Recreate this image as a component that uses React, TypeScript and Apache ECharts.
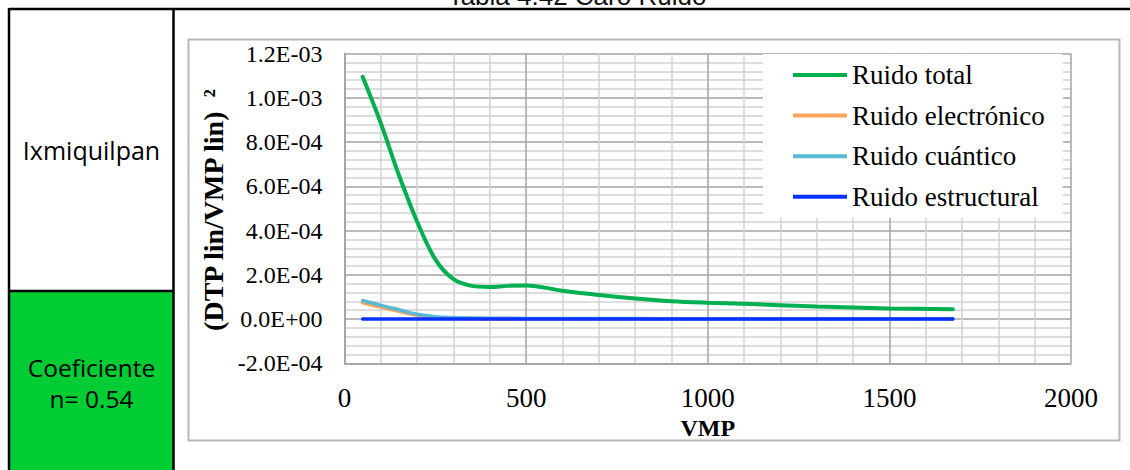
import React, { useEffect, useRef } from "react";
import * as echarts from "echarts";

// ---- data ----
const vmp = [50, 100, 150, 200, 250, 300, 350, 400, 450, 500, 600, 700, 800, 900, 1000, 1100, 1300, 1500, 1675];
const ruidoTotal = [1.095e-3, 8.85e-4, 6.5e-4, 4.4e-4, 2.7e-4, 1.8e-4, 1.5e-4, 1.45e-4, 1.5e-4, 1.52e-4, 1.28e-4, 1.09e-4, 9.3e-5, 8.1e-5, 7.4e-5, 6.9e-5, 5.7e-5, 4.8e-5, 4.4e-5];
const ruidoElectronico = [7.3e-5, 5.4e-5, 3.5e-5, 1.7e-5, 6e-6, 2e-6, 1e-6, 0, 0, 0, 0, 0, 0, 0, 0, 0, 0, 0, 0];
const ruidoCuantico = [8.4e-5, 6.2e-5, 4.2e-5, 2.2e-5, 1.1e-5, 7e-6, 5e-6, 4e-6, 3.5e-6, 3e-6, 2.5e-6, 2e-6, 2e-6, 1.5e-6, 1.5e-6, 1e-6, 1e-6, 1e-6, 1e-6];
const ruidoEstructural = [0, 0, 0, 0, 0, 0, 0, 0, 0, 0, 0, 0, 0, 0, 0, 0, 0, 0, 0];

const seriesNames = ["Ruido total", "Ruido electrónico", "Ruido cuántico", "Ruido estructural"];
const seriesColors = ["#00b050", "#f9a55a", "#5bb8d2", "#0a32ff"];
const seriesData = [ruidoTotal, ruidoElectronico, ruidoCuantico, ruidoEstructural];

const titleText = "Tabla 4.42 Caro Ruido";
const placeText = "Ixmiquilpan";
const coefLines = ["Coeficiente", "n= 0.54"];
const yTitle = "(DTP lin/VMP lin)  ²";
const xTitle = "VMP";

function sci(v: number): string {
  if (Math.abs(v) < 1e-12) return "0.0E+00";
  let e = Math.floor(Math.log10(Math.abs(v)));
  let m = v / Math.pow(10, e);
  m = Math.round(m * 10) / 10;
  if (Math.abs(m) >= 10) {
    m = m / 10;
    e += 1;
  }
  const ae = Math.abs(e);
  return m.toFixed(1) + "E" + (e < 0 ? "-" : "+") + (ae < 10 ? "0" + ae : String(ae));
}

const SERIF = '"Liberation Serif", "Times New Roman", serif';
const SANS = '"Open Sans", "Noto Sans", sans-serif';

export default function App() {
  const ref = useRef<HTMLDivElement>(null);
  useEffect(() => {
    const chart = echarts.init(ref.current!, null, { renderer: "svg" });
    const option: any = {
      animation: false,
      backgroundColor: "#ffffff",
      grid: { left: 344.5, right: 59, top: 53.6, bottom: 106.7 },
      xAxis: {
        type: "value",
        min: 0,
        max: 2000,
        interval: 500,
        axisLine: { show: true, onZero: false, lineStyle: { color: "#a0a0a0", width: 1.5 } },
        axisTick: { show: false },
        minorTick: { show: false, splitNumber: 5 },
        splitLine: { show: true, lineStyle: { color: "#a3a3a3", width: 1.5 } },
        minorSplitLine: { show: true, lineStyle: { color: "#d2d2d2", width: 1.5 } },
        axisLabel: {
          color: "#000",
          fontFamily: SERIF,
          fontSize: 27,
          margin: 21,
          formatter: (v: number) => String(v),
        },
        name: xTitle,
        nameLocation: "middle",
        nameGap: 47,
        nameTextStyle: { color: "#000", fontFamily: SERIF, fontSize: 24, fontWeight: "bold" },
      },
      yAxis: {
        type: "value",
        min: -2e-4,
        max: 1.2e-3,
        interval: 2e-4,
        axisLine: { show: true, lineStyle: { color: "#a0a0a0", width: 1.5 } },
        axisTick: { show: false },
        minorTick: { show: false, splitNumber: 5 },
        splitLine: { show: true, lineStyle: { color: "#a3a3a3", width: 1.5 } },
        minorSplitLine: { show: true, lineStyle: { color: "#d2d2d2", width: 1.5 } },
        axisLabel: {
          color: "#000",
          fontFamily: SERIF,
          fontSize: 24,
          margin: 22,
          padding: [5, 0, 0, 0],
          formatter: (v: number) => sci(v),
        },
      },
      legend: {
        orient: "vertical",
        left: 763,
        top: 54,
        padding: [6, 18, 6, 30],
        itemWidth: 54,
        itemHeight: 4,
        itemGap: 10.6,
        icon: "rect",
        backgroundColor: "#ffffff",
        textStyle: { color: "#000", fontFamily: SERIF, fontSize: 27, lineHeight: 30 },
        data: seriesNames,
      },
      series: seriesNames.map((name, i) => ({
        name,
        type: "line",
        smooth: 0.35,
        symbol: "none",
        color: seriesColors[i],
        lineStyle: { color: seriesColors[i], width: i === 0 ? 4 : 3.5, cap: "round" },
        data: vmp.map((x, j) => [x, seriesData[i][j]]),
      })),
      graphic: [
        {
          type: "rect",
          z: -10,
          shape: { x: 188.5, y: 39.5, width: 931, height: 401 },
          style: { fill: "none", stroke: "#b8b8b8", lineWidth: 2 },
        },
        {
          type: "rect",
          z: -10,
          shape: { x: 9, y: 291, width: 164.5, height: 190 },
          style: { fill: "#00cc33" },
        },
        { type: "line", z: -5, shape: { x1: 9, y1: 9, x2: 1130, y2: 9 }, style: { stroke: "#000", lineWidth: 2.5 } },
        { type: "line", z: -5, shape: { x1: 9, y1: 8, x2: 9, y2: 470 }, style: { stroke: "#000", lineWidth: 2.5 } },
        { type: "line", z: -5, shape: { x1: 173.5, y1: 8, x2: 173.5, y2: 470 }, style: { stroke: "#000", lineWidth: 2.5 } },
        { type: "line", z: -5, shape: { x1: 9, y1: 291, x2: 173.5, y2: 291 }, style: { stroke: "#000", lineWidth: 2.5 } },
        {
          type: "text",
          x: 577,
          y: -4,
          style: { text: titleText, fontFamily: '"Liberation Sans", Arial, sans-serif', fontSize: 26, fill: "#111", align: "center", verticalAlign: "middle" },
        },
        {
          type: "text",
          x: 91.5,
          y: 150,
          style: { text: placeText, fontFamily: SANS, fontSize: 25, fill: "#000", align: "center", verticalAlign: "middle" },
        },
        {
          type: "text",
          x: 91.5,
          y: 367,
          style: { text: coefLines[0], fontFamily: SANS, fontSize: 24.5, fill: "#000", align: "center", verticalAlign: "middle" },
        },
        {
          type: "text",
          x: 91.5,
          y: 398.5,
          style: { text: coefLines[1], fontFamily: SANS, fontSize: 24.5, fill: "#000", align: "center", verticalAlign: "middle" },
        },
        {
          type: "text",
          x: 213,
          y: 210,
          rotation: Math.PI / 2,
          style: { text: yTitle, fontFamily: SERIF, fontSize: 28, fontWeight: "bold", fill: "#000", align: "center", verticalAlign: "middle" },
        },
      ],
    };
    chart.setOption(option);
    return () => chart.dispose();
  }, []);
  return (
    <div
      ref={ref}
      style={{ position: "fixed", left: 0, top: 0, width: 1130, height: 470, background: "#fff" }}
    />
  );
}
